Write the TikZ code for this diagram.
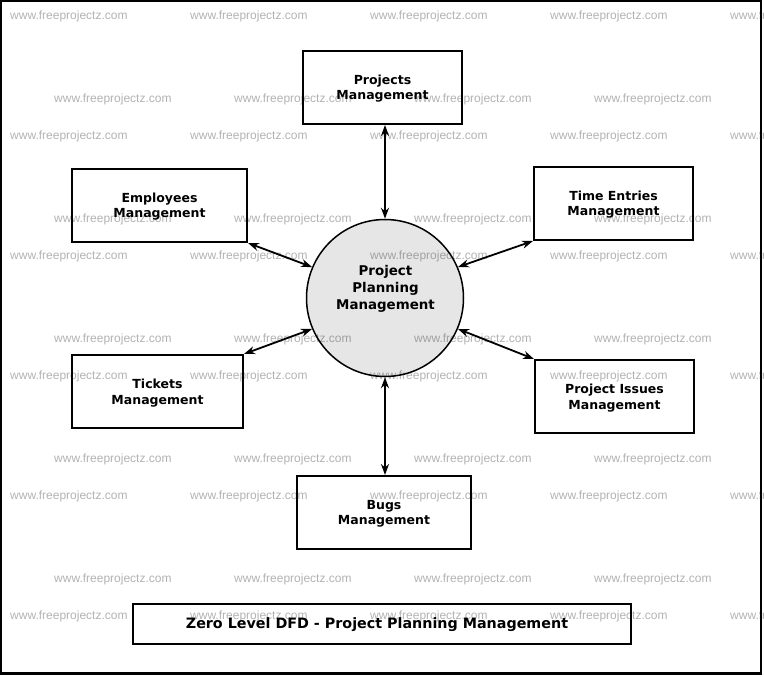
\documentclass[tikz,border=0pt]{standalone}
\usepackage{fontspec}
\setmainfont{DejaVu Sans}
\newfontfamily\markfont{Liberation Sans}
\usetikzlibrary{arrows.meta}

\begin{document}
\begin{tikzpicture}[x=1pt, y=-1pt]
                \tikzstyle{entity} = [draw, line width=2pt, align=center, font=\bfseries\fontsize{12.5}{15.5}\selectfont, minimum height=73pt, text depth=0pt]
                \tikzstyle{process} = [draw, circle, line width=1.5pt, fill={rgb,255:red,230;green,230;blue,230}, minimum size=157pt, inner sep=0pt]
                \tikzstyle{flow} = [line width=1.8pt, {Stealth[length=11pt,width=8pt]}-{Stealth[length=11pt,width=8pt]}]
                \tikzstyle{watermark} = [text=black, text opacity=0.3, font=\markfont\fontsize{12}{12}\selectfont, anchor=west, inner sep=0pt]
                \useasboundingbox (0, 0) rectangle (764, 677);
                \draw[line width=2.5pt] (1, 1) rectangle (761, 673.5);
                \node[entity, minimum width=159pt] (proj) at (382.5, 87.5) {Projects\\Management};
                \node[entity, minimum width=175pt] (emp) at (159.5, 205.5) {Employees\\Management};
                \node[entity, minimum width=159pt] (time) at (613.5, 203.5) {Time Entries\\Management};
                \node[entity, minimum width=171pt] (tick) at (157.5, 391.5) {Tickets\\Management};
                \node[entity, minimum width=159pt] (issue) at (614.5, 396.5) {Project Issues\\Management};
                \node[entity, minimum width=174pt] (bugs) at (384, 512.5) {Bugs\\Management};
                \node[process] (ppm) at (385, 298) {};
                \node[align=center, font=\bfseries\fontsize{13.4}{17}\selectfont] (ppmtext) at (385.5, 289) {Project\\Planning\\Management};
                \node[draw, line width=2pt, minimum width=498pt, minimum height=40pt] (title) at (382, 624) {};
                \node[font=\bfseries\fontsize{14.3}{17}\selectfont] (titletext) at (377, 625) {Zero Level DFD - Project Planning Management};
                \draw[flow] (proj.south -| ppm.north) -- (ppm.north);
                \draw[flow] (bugs.north -| ppm.south) -- (ppm.south);
                \draw[flow] (emp.south east) -- (ppm.157);
                \draw[flow] (time.south west) -- (ppm.23);
                \draw[flow] (tick.north east) -- (ppm.203);
                \draw[flow] (issue.north west) -- (ppm.337);
                \foreach \row in {16, 136, 256, 376, 496, 616}
                    \foreach \col in {10, 190, 370, 550, 730}
                        \node[watermark] at (\col, \row) {www.freeprojectz.com};
                \foreach \row in {99, 219, 339, 459, 579}
                    \foreach \col in {54, 234, 414, 594}
                        \node[watermark] at (\col, \row) {www.freeprojectz.com};
            \end{tikzpicture}
\end{document}
